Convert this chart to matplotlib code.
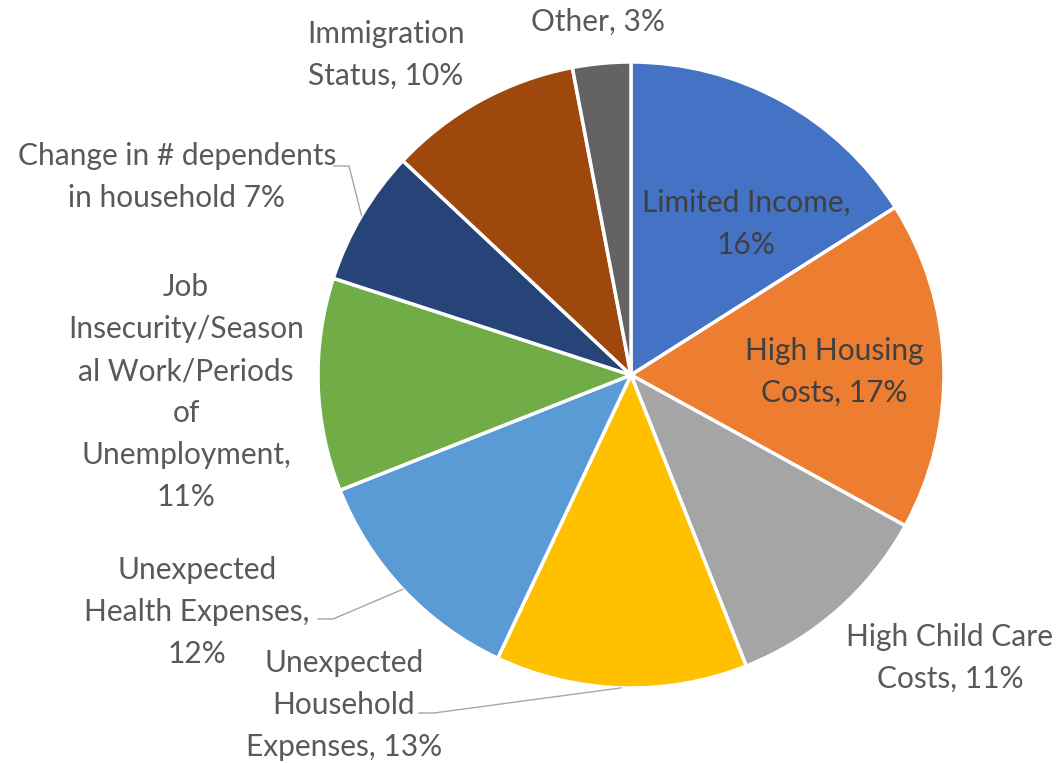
import matplotlib.pyplot as plt
import numpy as np

# 項目と割合(%)
labels = [
    "Limited Income,\n{}%",
    "High Housing\nCosts, {}%",
    "High Child Care\nCosts, {}%",
    "Unexpected\nHousehold\nExpenses, {}%",
    "Unexpected\nHealth Expenses,\n{}%",
    "Job\nInsecurity/Season\nal Work/Periods\nof\nUnemployment,\n{}%",
    "Change in # dependents\nin household {}%",
    "Immigration\nStatus, {}%",
    "Other, {}%",
]
values = [16, 17, 11, 13, 12, 11, 7, 10, 3]
colors = ["#4472C4", "#ED7D31", "#A5A5A5", "#FFC000", "#5B9BD5",
          "#70AD47", "#264478", "#9E480E", "#636363"]

W, H = 1058, 763
cx, cy, r = 631, H - 375, 313

# ラベル位置 (画素座標, 上から)
label_pos = [(746, 224), (834, 372), (950, 658), (344, 705), (197, 612),
             (186, 392), (177, 177), (386, 55), (598, 22)]
# 引き出し線の始点 (None は線なし)
leader_start = [None, None, None, (419, 713), (318, 619),
                None, (334, 166), None, None]

plt.rcParams['font.family'] = ['Lato', 'DejaVu Sans']
fig = plt.figure(figsize=(W / 100, H / 100), dpi=100)
ax = fig.add_axes([0, 0, 1, 1])

wedges, _ = ax.pie(values, colors=colors, startangle=90, counterclock=False,
                   center=(cx, cy), radius=r, frame=True,
                   wedgeprops=dict(edgecolor='white', linewidth=2.5))
ax.set_xlim(0, W)
ax.set_ylim(0, H)
ax.set_aspect('equal')
ax.axis('off')

for i, w in enumerate(wedges):
    x, y = label_pos[i]
    col = '#404040' if i < 2 else '#595959'
    ax.text(x, H - y, labels[i].format(values[i]), ha='center', va='center',
            multialignment='center', fontsize=21.5, color=col, linespacing=1.6)
    if leader_start[i] is not None:
        mid = np.deg2rad((w.theta1 + w.theta2) / 2)
        ex, ey = cx + r * np.cos(mid), cy + r * np.sin(mid)
        sx, sy = leader_start[i]
        ax.plot([sx, sx + 15, ex], [H - sy, H - sy, ey], color='#A6A6A6', lw=1)

fig.savefig('out.png', dpi=100)
